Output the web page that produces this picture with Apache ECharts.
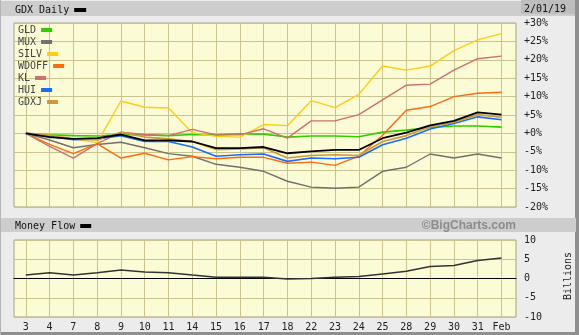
<!DOCTYPE html>
<html><head><meta charset="utf-8">
<script src="https://cdn.jsdelivr.net/npm/echarts@6/dist/echarts.min.js"></script>
<style>html,body{margin:0;padding:0;background:#ececec}#c{width:579px;height:335px}</style>
</head><body><div id="c"></div>
<script>
const categories = ['3','4','7','8','9','10','11','14','15','16','17','18','22','23','24','25','28','29','30','31','Feb'];
const GDX   = [0,-1.0,-1.5,-1.3,-0.3,-1.9,-1.9,-2.2,-4.0,-4.0,-3.7,-5.4,-4.9,-4.5,-4.5,-1.3,0.2,2.2,3.4,5.7,5.1];
const GLD   = [0,-0.4,-0.6,-0.7,-0.3,-0.4,-0.6,-0.3,-0.4,-0.1,-0.2,-1.0,-0.7,-0.7,-0.9,0.35,0.9,1.6,2.0,2.0,1.7];
const MUX   = [0,-1.8,-3.9,-3.0,-2.4,-3.9,-5.5,-6.2,-8.4,-9.2,-10.3,-13.0,-14.6,-14.9,-14.6,-10.3,-9.2,-5.6,-6.7,-5.6,-6.7];
const SILV  = [0,-0.5,-1.5,-2.5,8.8,7.1,6.9,0.2,-0.8,-1.0,2.4,2.1,8.9,7.0,10.6,18.3,17.2,18.3,22.5,25.4,27.1];
const WDOFF = [0,-3.0,-5.5,-2.8,-6.7,-5.4,-7.2,-6.3,-6.9,-6.5,-6.5,-8.1,-7.8,-8.7,-6.2,-0.5,6.3,7.3,10.0,10.9,11.2];
const KL    = [0,-3.5,-6.7,-2.8,0.3,-0.3,-0.6,1.1,-0.4,-0.4,1.25,-1.3,3.4,3.4,5.1,9.1,13.1,13.4,17.2,20.3,21.0];
const HUI   = [0,-0.8,-1.7,-1.5,-0.6,-2.2,-2.2,-3.7,-6.2,-5.8,-5.6,-7.6,-6.7,-6.9,-6.5,-3.1,-1.3,1.2,2.7,4.5,3.7];
const GDXJ  = [0,-0.5,-1.5,-1.8,0.3,-1.0,-1.5,-2.2,-4.4,-4.2,-3.9,-6.7,-6.0,-5.8,-6.0,-2.2,-0.6,1.8,3.0,5.1,4.4];
const moneyFlow = [0.9,1.5,0.9,1.5,2.2,1.7,1.5,0.9,0.35,0.3,0.3,-0.15,0,0.3,0.5,1.2,1.9,3.1,3.4,4.7,5.3];
const pctTicks = {min:-20, max:30, interval:5};
const mfTicks = {min:-10, max:10, interval:5};

const FONT = 'DejaVu Sans Mono';
const GRIDC = '#c9c48f';
const PLOTBG = '#fbfbd6';
const txt = {fontFamily: FONT, fontSize: 10, color: '#222'};

const peers = [
  ['GLD', GLD, '#33cc00', 1.6],
  ['MUX', MUX, '#707070', 1.4],
  ['SILV', SILV, '#ffcc11', 1.4],
  ['WDOFF', WDOFF, '#ff6a10', 1.4],
  ['KL', KL, '#cc7070', 1.4],
  ['HUI', HUI, '#1a6cff', 1.6],
  ['GDXJ', GDXJ, '#cc9a3a', 1.6]
];

const series = peers.map(([n, d, c, w]) => ({
  name: n, type: 'line', xAxisIndex: 1, yAxisIndex: 1, data: d, symbol: 'none',
  color: c, lineStyle: {color: c, width: w}, z: 3
}));
series.push({name: 'GDX', type: 'line', xAxisIndex: 1, yAxisIndex: 1, data: GDX, symbol: 'none',
  color: '#000', lineStyle: {color: '#000', width: 1.8}, z: 4});
series.push({name: 'Money Flow', type: 'line', xAxisIndex: 3, yAxisIndex: 3, data: moneyFlow, symbol: 'none',
  color: '#000', lineStyle: {color: '#333', width: 1.5}, z: 4});

const legends = [
  {data: ['GDX'], left: 15, top: 5, align: 'right', icon: 'rect', itemWidth: 12, itemHeight: 4,
   formatter: () => 'GDX Daily', textStyle: {fontFamily: FONT, fontSize: 10, color: '#111'}, selectedMode: false, padding: 0},
  {data: ['Money Flow'], left: 15, top: 221, align: 'right', icon: 'rect', itemWidth: 11, itemHeight: 4,
   textStyle: {fontFamily: FONT, fontSize: 10, color: '#111'}, selectedMode: false, padding: 0}
];
peers.forEach((p, i) => legends.push({
  data: [p[0]], left: 18, top: 25 + 12 * i, align: 'right', icon: 'rect', itemWidth: 11, itemHeight: 4,
  padding: 0, selectedMode: false, textStyle: {fontFamily: FONT, fontSize: 10, color: '#444'}
}));

const chart = echarts.init(document.getElementById('c'), null, {renderer: 'canvas'});
chart.setOption({
  animation: false,
  backgroundColor: '#ececec',
  graphic: [
    {type: 'rect', shape: {x: 575, y: 0, width: 4, height: 335}, style: {fill: '#8f8f8f'}, z: -10},
    {type: 'rect', shape: {x: 0, y: 332, width: 579, height: 3}, style: {fill: '#8f8f8f'}, z: -10},
    {type: 'rect', shape: {x: 0, y: 0, width: 1, height: 335}, style: {fill: '#b5b5b5'}, z: -10},
    {type: 'rect', shape: {x: 1, y: 1, width: 574, height: 15}, style: {fill: '#cdcdcd'}, z: -10},
    {type: 'rect', shape: {x: 521, y: 0, width: 54, height: 14}, style: {fill: '#bebebe'}, z: -9},
    {type: 'text', x: 545, y: 9, style: {text: '2/01/19', fontFamily: FONT, fontSize: 10, fill: '#111', align: 'center', verticalAlign: 'middle'}},
    {type: 'rect', shape: {x: 1, y: 218, width: 575, height: 14}, style: {fill: '#cdcdcd'}, z: -10},
    {type: 'text', x: 516, y: 226, style: {text: '©BigCharts.com', fontFamily: 'Liberation Sans', fontWeight: 'bold', fontSize: 12, fill: '#8c8c8c', align: 'right', verticalAlign: 'middle'}},
    {type: 'text', x: 568, y: 276, rotation: Math.PI / 2, style: {text: 'Billions', fontFamily: FONT, fontSize: 10, fill: '#222', align: 'center', verticalAlign: 'middle'}}
  ],
  legend: legends,
  grid: [
    {left: 14, top: 23, width: 502, height: 184, show: true, backgroundColor: PLOTBG, borderColor: '#a6a37f', borderWidth: 1},
    {left: 25.8, top: 23, width: 475.7, height: 184},
    {left: 14, top: 240, width: 502, height: 77, show: true, backgroundColor: PLOTBG, borderColor: '#a6a37f', borderWidth: 1},
    {left: 25.8, top: 240, width: 475.7, height: 77}
  ],
  xAxis: [
    {gridIndex: 0, type: 'value', min: 0, max: 1, show: false},
    {gridIndex: 1, type: 'category', data: categories, boundaryGap: false, axisLine: {show: false}, axisTick: {show: false},
     axisLabel: {show: false}, splitLine: {show: true, interval: 0, lineStyle: {color: GRIDC, width: 1}}},
    {gridIndex: 2, type: 'value', min: 0, max: 1, axisLine: {show: true, onZero: true, lineStyle: {color: '#000', width: 1.2}},
     axisTick: {show: false}, axisLabel: {show: false}, splitLine: {show: false}},
    {gridIndex: 3, type: 'category', data: categories, boundaryGap: false, axisLine: {show: false}, axisTick: {show: false},
     axisLabel: Object.assign({interval: 0, margin: 5}, txt), splitLine: {show: true, interval: 0, lineStyle: {color: GRIDC, width: 1}}}
  ],
  yAxis: [
    {gridIndex: 0, type: 'value', position: 'right', min: pctTicks.min, max: pctTicks.max, interval: pctTicks.interval,
     axisLine: {show: false}, axisTick: {show: false},
     axisLabel: Object.assign({align: 'left', margin: 8, formatter: v => (v >= 0 ? '+' : '') + v + '%'}, txt),
     splitLine: {show: true, lineStyle: {color: GRIDC, width: 1}}},
    {gridIndex: 1, type: 'value', min: pctTicks.min, max: pctTicks.max, show: false},
    {gridIndex: 2, type: 'value', position: 'right', min: mfTicks.min, max: mfTicks.max, interval: mfTicks.interval,
     axisLine: {show: false}, axisTick: {show: false},
     axisLabel: Object.assign({align: 'left', margin: 8}, txt),
     splitLine: {show: true, lineStyle: {color: GRIDC, width: 1}}},
    {gridIndex: 3, type: 'value', min: mfTicks.min, max: mfTicks.max, show: false}
  ],
  series: series
});
</script></body></html>
